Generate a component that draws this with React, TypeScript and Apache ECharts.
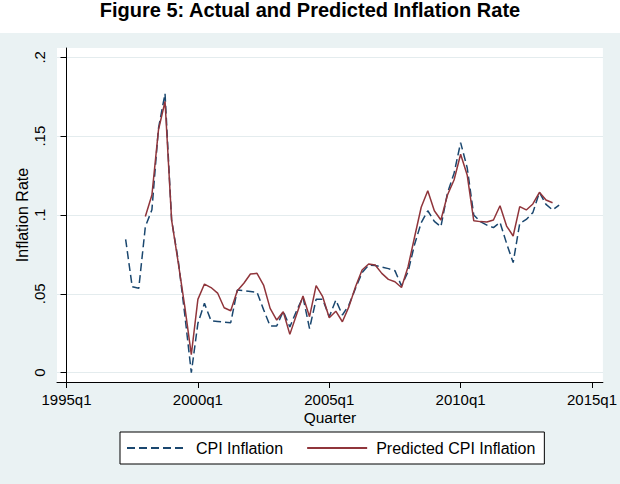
import React, { useEffect, useRef } from "react";
import * as echarts from "echarts";

// Quarterly CPI inflation (actual) and the model's predicted CPI inflation
const cpiStart = "1997q2";
const cpiInflation = [
  0.0846, 0.0545, 0.0535, 0.0926, 0.1033, 0.155, 0.177, 0.0968, 0.0715, 0.037,
  0.0, 0.0313, 0.044, 0.033, 0.0325, 0.032, 0.0317, 0.0524, 0.052, 0.0515,
  0.051, 0.04, 0.0296, 0.0296, 0.039, 0.029, 0.039, 0.048, 0.028, 0.0465,
  0.0465, 0.0355, 0.046, 0.0366, 0.043, 0.0535, 0.0635, 0.0683, 0.068, 0.067,
  0.066, 0.0647, 0.055, 0.064, 0.0815, 0.0951, 0.1027, 0.096, 0.0926, 0.114,
  0.1264, 0.1459, 0.13, 0.1, 0.0958, 0.0936, 0.092, 0.0953, 0.082, 0.0698,
  0.0947, 0.0972, 0.1015, 0.1144, 0.1067, 0.1032, 0.1063,
];

const predictedStart = "1998q1";
const predictedInflation = [
  0.099, 0.1127, 0.154, 0.172, 0.0968, 0.07, 0.042, 0.0115, 0.0465, 0.0562,
  0.054, 0.0505, 0.0412, 0.0393, 0.052, 0.0567, 0.0626, 0.063, 0.0556, 0.0408,
  0.0334, 0.0387, 0.0243, 0.0366, 0.0486, 0.0355, 0.0552, 0.0482, 0.0349, 0.039,
  0.0323, 0.0419, 0.0545, 0.0651, 0.0689, 0.0683, 0.063, 0.0592, 0.0577, 0.054,
  0.0672, 0.0862, 0.1049, 0.1154, 0.1027, 0.0968, 0.1127, 0.1222, 0.1385, 0.1254,
  0.0964, 0.0958, 0.0956, 0.0968, 0.1059, 0.093, 0.0867, 0.1053, 0.1032, 0.107,
  0.1144, 0.1095, 0.1078,
];

const xTickLabels = ["1995q1", "2000q1", "2005q1", "2010q1", "2015q1"];
const yTickValues = [0, 0.05, 0.1, 0.15, 0.2];
const yTickLabels = ["0", ".05", ".1", ".15", ".2"];

const FONT = "Liberation Sans";
const NAVY = "#1A476F";
const MAROON = "#90353B";
const PANEL = "#EAF2F3";

// quarter index, counted from 1995q1 = 0
const toIndex = (q: string) => {
  const [y, qq] = q.split("q").map(Number);
  return (y - 1995) * 4 + (qq - 1);
};
const toLabel = (i: number) => `${1995 + Math.floor(i / 4)}q${(i % 4) + 1}`;

const seriesPoints = (start: string, values: number[]) => {
  const s = toIndex(start);
  return values.map((v, i) => [s + i, v]);
};

export default function App() {
  const ref = useRef<HTMLDivElement>(null);

  useEffect(() => {
    document.body.style.margin = "0";
    if (!ref.current) return;
    const chart = echarts.init(ref.current, undefined, { renderer: "svg" });

    const xTickValues = xTickLabels.map(toIndex);

    chart.setOption({
      animation: false,
      backgroundColor: PANEL,
      textStyle: { fontFamily: FONT },
      graphic: [
        {
          type: "rect",
          z: -10,
          shape: { x: 0, y: 0, width: 620, height: 33 },
          style: { fill: "#ffffff" },
          silent: true,
        },
        {
          type: "text",
          x: 310,
          y: 10,
          style: {
            text: "Figure 5: Actual and Predicted Inflation Rate",
            fontFamily: FONT,
            fontSize: 20,
            fontWeight: "bold",
            fill: "#000",
            textAlign: "center",
            textVerticalAlign: "middle",
          },
          silent: true,
        },
      ],
      grid: [
        {
          left: 57,
          right: 17,
          top: 48,
          bottom: 102,
          show: true,
          backgroundColor: "#ffffff",
          borderWidth: 0,
        },
        // grid that carries only the horizontal gridlines over 0 … .2
        {
          left: 57,
          right: 17,
          top: 57.3,
          bottom: 111.3,
          show: false,
        },
      ],
      xAxis: [
        {
          type: "value",
          gridIndex: 0,
          min: -1.45,
          max: 81.66,
          name: "Quarter",
          nameLocation: "middle",
          nameGap: 27,
          nameMoveOverlap: false,
          nameTextStyle: {
            fontSize: 15.5,
            color: "#000",
            fontFamily: FONT,
            verticalAlign: "top",
          },
          axisLine: { show: true, onZero: false, lineStyle: { color: "#000", width: 1 } },
          axisTick: {
            show: true,
            length: 6,
            customValues: xTickValues,
            lineStyle: { color: "#000" },
          },
          axisLabel: {
            customValues: xTickValues,
            formatter: (v: number) => toLabel(v),
            fontSize: 15,
            color: "#000",
            margin: 10,
            fontFamily: FONT,
          },
          splitLine: { show: false },
        },
        {
          type: "value",
          gridIndex: 1,
          min: 0,
          max: 1,
          show: false,
        },
      ],
      yAxis: [
        {
          type: "value",
          gridIndex: 0,
          min: -0.0059,
          max: 0.2059,
          name: "Inflation Rate",
          nameLocation: "middle",
          nameRotate: 90,
          nameGap: 27,
          nameMoveOverlap: false,
          nameTextStyle: { fontSize: 16, color: "#000", fontFamily: FONT },
          axisLine: { show: true, lineStyle: { color: "#000", width: 1 } },
          axisTick: {
            show: true,
            length: 6,
            customValues: yTickValues,
            lineStyle: { color: "#000" },
          },
          axisLabel: {
            customValues: yTickValues,
            rotate: 90,
            formatter: (v: number) => {
              const i = yTickValues.findIndex((t) => Math.abs(t - v) < 1e-9);
              return i >= 0 ? yTickLabels[i] : "";
            },
            fontSize: 15,
            color: "#000",
            margin: 10,
            fontFamily: FONT,
          },
          splitLine: { show: false },
        },
        {
          type: "value",
          gridIndex: 1,
          min: 0,
          max: 0.2,
          interval: 0.05,
          axisLine: { show: false },
          axisTick: { show: false },
          axisLabel: { show: false },
          splitLine: { show: true, lineStyle: { color: "#E4ECEE", width: 1 } },
        },
      ],
      legend: {
        left: 120,
        top: 432,
        orient: "horizontal",
        padding: [8, 9, 8, 6],
        itemWidth: 60,
        itemHeight: 14,
        itemGap: 23,
        borderColor: "#000",
        borderWidth: 1,
        borderRadius: 0,
        backgroundColor: "#ffffff",
        itemStyle: { opacity: 0 },
        textStyle: { fontSize: 16, color: "#000", fontFamily: FONT, padding: [0, 0, 0, 4] },
        data: ["CPI Inflation", "Predicted CPI Inflation"],
      },
      series: [
        {
          name: "CPI Inflation",
          type: "line",
          xAxisIndex: 0,
          yAxisIndex: 0,
          data: seriesPoints(cpiStart, cpiInflation),
          symbol: "none",
          showSymbol: false,
          lineStyle: { color: NAVY, width: 1.5, type: [8, 4] },
          itemStyle: { color: NAVY },
          z: 3,
        },
        {
          name: "Predicted CPI Inflation",
          type: "line",
          xAxisIndex: 0,
          yAxisIndex: 0,
          data: seriesPoints(predictedStart, predictedInflation),
          symbol: "none",
          showSymbol: false,
          lineStyle: { color: MAROON, width: 1.5 },
          itemStyle: { color: MAROON },
          z: 4,
        },
      ],
    });

    return () => chart.dispose();
  }, []);

  return <div ref={ref} style={{ width: 620, height: 484 }} />;
}
